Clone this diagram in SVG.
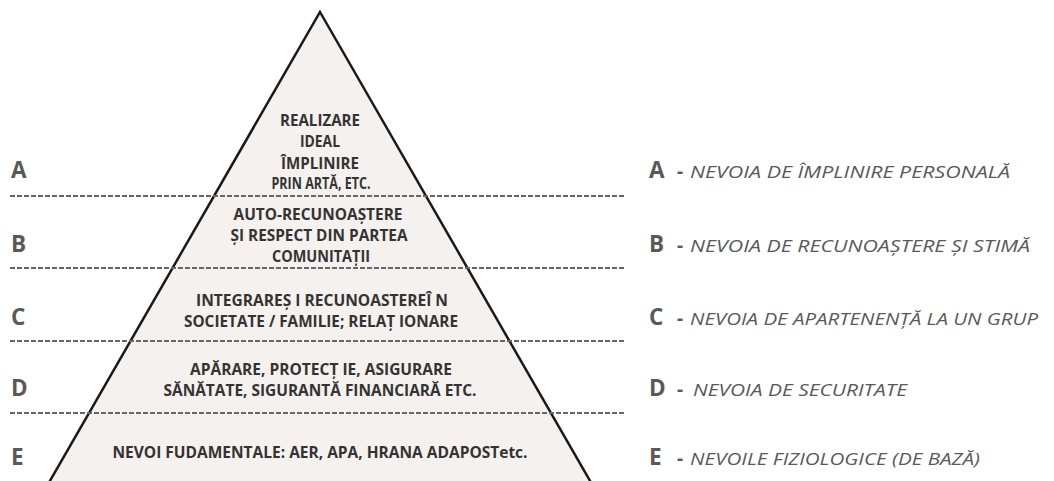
<svg xmlns="http://www.w3.org/2000/svg" width="1054" height="481" viewBox="0 0 1054 481">
<style>
.lvl{font-family:"Open Sans","Liberation Sans",sans-serif;font-weight:bold;font-size:15.5px;fill:#333333;text-anchor:middle}
.let{font-family:"Open Sans","Liberation Sans",sans-serif;font-weight:bold;font-size:22.5px;fill:#595959}
.leg{font-family:"Open Sans","Liberation Sans",sans-serif;font-style:italic;font-size:17px;fill:#595959}
.dash{font-family:"Open Sans","Liberation Sans",sans-serif;font-weight:bold;font-size:19px;fill:#595959}
.sep{stroke:#666666;stroke-width:2;stroke-dasharray:5 2;fill:none}
</style>
<rect width="1054" height="481" fill="#ffffff"/>
<g id="pyramid">
<polygon points="320,12 593,486 47,486" fill="#f5f1ee" stroke="#1a1a1a" stroke-width="2.5" stroke-linejoin="miter"/>
</g>
<g id="connectors">
<line class="sep" x1="10" y1="196" x2="624" y2="196"/>
<line class="sep" x1="10" y1="268" x2="624" y2="268"/>
<line class="sep" x1="10" y1="341" x2="624" y2="341"/>
<line class="sep" x1="10" y1="413" x2="624" y2="413"/>
</g>
<g id="level-A">
<text class="lvl" x="320" y="126" textLength="80" lengthAdjust="spacingAndGlyphs">REALIZARE</text>
<text class="lvl" x="320" y="147" textLength="40" lengthAdjust="spacingAndGlyphs">IDEAL</text>
<text class="lvl" x="320" y="169" textLength="78" lengthAdjust="spacingAndGlyphs">ÎMPLINIRE</text>
<text class="lvl" x="321" y="189" textLength="99" lengthAdjust="spacingAndGlyphs">PRIN ARTĂ, ETC.</text>
</g>
<g id="level-B">
<text class="lvl" x="318" y="220" textLength="169" lengthAdjust="spacingAndGlyphs">AUTO-RECUNOAȘTERE</text>
<text class="lvl" x="319" y="241" textLength="177" lengthAdjust="spacingAndGlyphs">ȘI RESPECT DIN PARTEA</text>
<text class="lvl" x="321" y="262" textLength="98" lengthAdjust="spacingAndGlyphs">COMUNITAȚII</text>
</g>
<g id="level-C">
<text class="lvl" x="322" y="306" textLength="252" lengthAdjust="spacingAndGlyphs">INTEGRAREȘ I RECUNOASTEREÎ N</text>
<text class="lvl" x="321" y="327" textLength="274" lengthAdjust="spacingAndGlyphs">SOCIETATE / FAMILIE; RELAȚ IONARE</text>
</g>
<g id="level-D">
<text class="lvl" x="321" y="375" textLength="262" lengthAdjust="spacingAndGlyphs">APĂRARE, PROTECȚ IE, ASIGURARE</text>
<text class="lvl" x="320" y="396" textLength="313" lengthAdjust="spacingAndGlyphs">SĂNĂTATE, SIGURANTĂ FINANCIARĂ ETC.</text>
</g>
<g id="level-E">
<text class="lvl" x="320" y="458" textLength="415" lengthAdjust="spacingAndGlyphs">NEVOI FUDAMENTALE: AER, APA, HRANA ADAPOSTetc.</text>
</g>
<g id="left-labels">
<text class="let" x="11" y="178">A</text>
<text class="let" x="11" y="252">B</text>
<text class="let" x="11" y="325">C</text>
<text class="let" x="11" y="396">D</text>
<text class="let" x="11" y="465">E</text>
</g>
<g id="legend-A">
<text class="let" x="649" y="178">A</text><text class="dash" x="677" y="178">-</text>
<text class="leg" x="690" y="178" textLength="320" lengthAdjust="spacingAndGlyphs">NEVOIA DE ÎMPLINIRE PERSONALĂ</text>
</g>
<g id="legend-B">
<text class="let" x="649" y="252">B</text><text class="dash" x="677" y="252">-</text>
<text class="leg" x="690" y="252" textLength="340" lengthAdjust="spacingAndGlyphs">NEVOIA DE RECUNOAȘTERE ȘI STIMĂ</text>
</g>
<g id="legend-C">
<text class="let" x="649" y="325">C</text><text class="dash" x="677" y="325">-</text>
<text class="leg" x="690" y="325" textLength="348" lengthAdjust="spacingAndGlyphs">NEVOIA DE APARTENENȚĂ LA UN GRUP</text>
</g>
<g id="legend-D">
<text class="let" x="649" y="396">D</text><text class="dash" x="677" y="396">-</text>
<text class="leg" x="693" y="396" textLength="214" lengthAdjust="spacingAndGlyphs">NEVOIA DE SECURITATE</text>
</g>
<g id="legend-E">
<text class="let" x="649" y="465">E</text><text class="dash" x="677" y="465">-</text>
<text class="leg" x="690" y="465" textLength="290" lengthAdjust="spacingAndGlyphs">NEVOILE FIZIOLOGICE (DE BAZĂ)</text>
</g>
</svg>
